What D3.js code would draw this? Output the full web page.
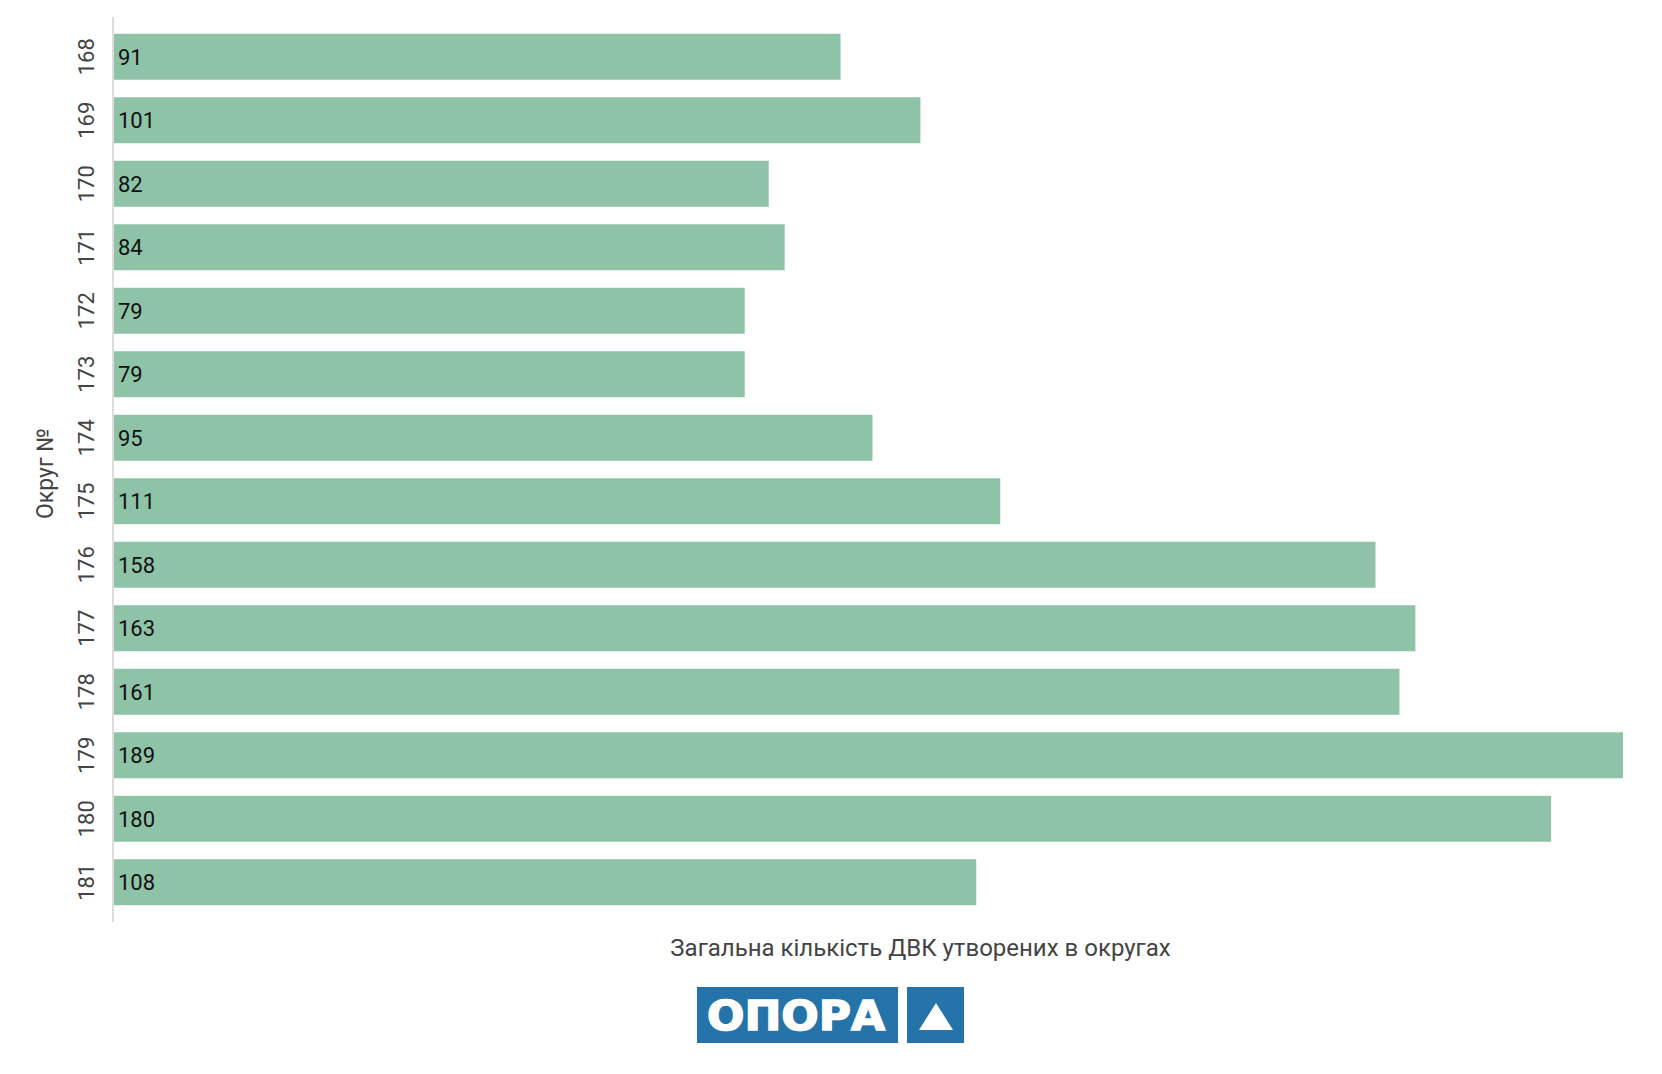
<!DOCTYPE html>
<html>
<head>
<meta charset="utf-8">
<script src="https://cdn.jsdelivr.net/npm/d3@7"></script>
<style>
  body { margin: 0; background: #fff; }
  text { font-family: Roboto, "Noto Sans", sans-serif; }
</style>
</head>
<body>
<div id="chart"></div>
<script>
// districts and number of commissions
var districts = ["168", "169", "170", "171", "172", "173", "174", "175", "176", "177", "178", "179", "180", "181"];
var counts = [91, 101, 82, 84, 79, 79, 95, 111, 158, 163, 161, 189, 180, 108];
var xTitle = "Загальна кількість ДВК утворених в округах";
var yTitle = "Округ №";

var W = 1662, H = 1074;
var left = 114, right = 1623;

var svg = d3.select("#chart")
    .append("svg")
    .attr("width", W)
    .attr("height", H);

var x = d3.scaleLinear()
    .domain([0, d3.max(counts)])
    .range([left, right]);

var y = d3.scaleBand()
    .domain(districts)
    .range([25, 914])
    .paddingInner(0.276)
    .paddingOuter(0.138);

var data = districts.map(function(d, i) {
    return {district: d, count: counts[i]};
});

// bars
svg.selectAll(".bar")
    .data(data)
    .enter().append("rect")
    .attr("class", "bar")
    .attr("x", x(0))
    .attr("y", function(d) { return y(d.district); })
    .attr("width", function(d) { return x(d.count) - x(0); })
    .attr("height", y.bandwidth())
    .style("fill", "#8ec3a7");

// value labels inside bars
svg.selectAll(".val")
    .data(data)
    .enter().append("text")
    .attr("class", "val")
    .attr("x", x(0) + 4)
    .attr("y", function(d) { return y(d.district) + y.bandwidth() / 2; })
    .attr("dy", "0.36em")
    .style("font-size", "22px")
    .style("font-weight", "400")
    .style("fill", "#111")
    .text(function(d) { return d.count; });

// y axis: line + rotated tick labels
var yAxis = d3.axisLeft(y).tickSize(0).tickPadding(0);
var gy = svg.append("g")
    .attr("transform", "translate(" + (left - 1) + ",0)")
    .call(yAxis);
gy.select(".domain").remove();
gy.selectAll(".tick text")
    .attr("transform", "rotate(-90)")
    .attr("x", 0)
    .attr("y", -27)
    .attr("dy", "0.36em")
    .attr("text-anchor", "middle")
    .style("font-family", "Roboto, sans-serif")
    .style("font-size", "22px")
    .style("fill", "#444");

svg.append("line")
    .attr("x1", left - 1).attr("x2", left - 1)
    .attr("y1", 17).attr("y2", 922)
    .style("stroke", "#ddd")
    .style("stroke-width", 2);

// axis titles
svg.append("text")
    .attr("transform", "translate(45," + ((y.range()[0] + y.range()[1]) / 2 + 4) + ") rotate(-90)")
    .attr("text-anchor", "middle")
    .attr("dy", "0.36em")
    .style("font-size", "23px")
    .style("fill", "#444")
    .text(yTitle);

svg.append("text")
    .attr("x", (x(0) + x.range()[1]) / 2 + 52)
    .attr("y", 956)
    .attr("text-anchor", "middle")
    .style("font-size", "24px")
    .style("fill", "#444")
    .text(xTitle);

// logo
var logo = svg.append("g");
logo.append("rect")
    .attr("x", 697).attr("y", 987)
    .attr("width", 201).attr("height", 56)
    .style("fill", "#2574a9");
logo.append("text")
    .attr("x", 707).attr("y", 1030)
    .attr("textLength", 178)
    .attr("lengthAdjust", "spacingAndGlyphs")
    .style("font-family", "'DejaVu Sans', 'Liberation Sans', sans-serif")
    .style("font-weight", "bold")
    .style("font-size", "41px")
    .style("fill", "#fff")
    .style("stroke", "#fff")
    .style("stroke-width", 1.5)
    .text("ОПОРА");
logo.append("rect")
    .attr("x", 907).attr("y", 987)
    .attr("width", 57).attr("height", 56)
    .style("fill", "#2574a9");
logo.append("path")
    .attr("d", "M919,1030 L936,1003 L953,1030 Z")
    .style("fill", "#fff");
</script>
</body>
</html>
